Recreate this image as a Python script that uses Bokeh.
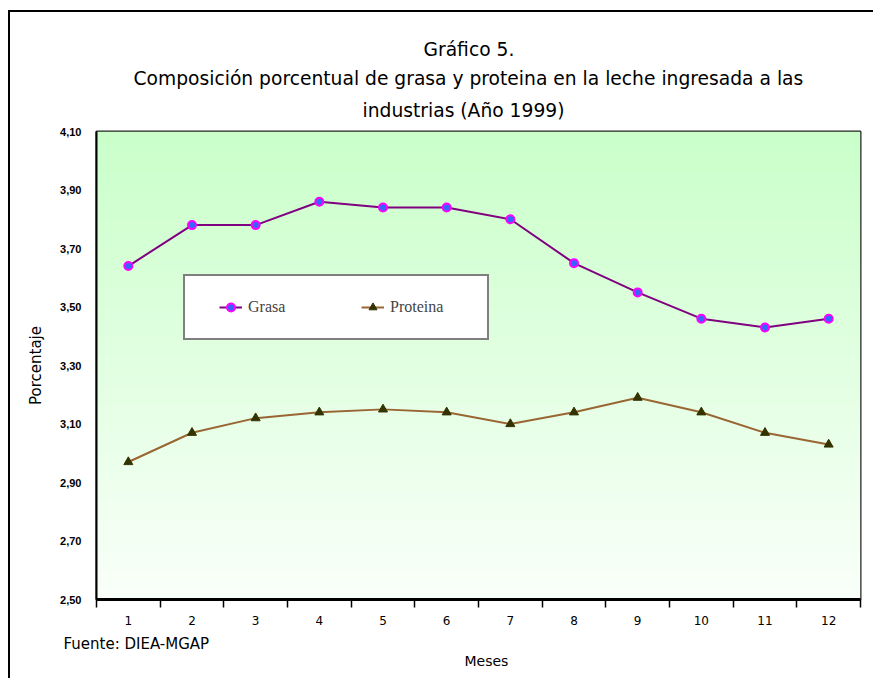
import numpy as np
from bokeh.plotting import figure
from bokeh.models import (Range1d, FixedTicker, CustomJSTickFormatter, Legend, LegendItem,
                          Title)
from bokeh.embed import file_html
from bokeh.resources import INLINE

# ---------------- data ----------------
meses = [1, 2, 3, 4, 5, 6, 7, 8, 9, 10, 11, 12]
mes_labels = ["1", "2", "3", "4", "5", "6", "7", "8", "9", "10", "11", "12"]
grasa = [3.64, 3.78, 3.78, 3.86, 3.84, 3.84, 3.80, 3.65, 3.55, 3.46, 3.43, 3.46]
proteina = [2.97, 3.07, 3.12, 3.14, 3.15, 3.14, 3.10, 3.14, 3.19, 3.14, 3.07, 3.03]
y_ticks = [2.5, 2.7, 2.9, 3.1, 3.3, 3.5, 3.7, 3.9, 4.1]
boundaries = [m - 0.5 for m in meses] + [meses[-1] + 0.5]

title_lines = ["Gráfico 5.",
               "Composición porcentual de grasa y proteina en la leche ingresada a las",
               "industrias  (Año 1999)"]
source_text = "Fuente: DIEA-MGAP"
x_label = "Meses"
y_label = "Porcentaje"

p = figure(width=865, height=668,
           x_range=Range1d(boundaries[0], boundaries[-1]),
           y_range=Range1d(y_ticks[0], y_ticks[-1]),
           output_backend="svg", toolbar_location=None,
           min_border_left=86, min_border_right=15, min_border_top=119, min_border_bottom=81)
p.styles = {"border-top": "2px solid black", "border-left": "2px solid black",
            "margin-left": "8px", "margin-top": "10px"}

p.background_fill_color = "white"
p.border_fill_color = "white"
p.outline_line_color = "#222222"
p.outline_line_width = 2
p.xgrid.visible = False
p.ygrid.visible = False

# gradient background of the plot area (style only)
N = 256
img = np.zeros((N, 1), dtype=np.uint32)
view = img.view(dtype=np.uint8).reshape((N, 1, 4))
t = np.linspace(0, 1, N)  # 0 bottom -> 1 top
view[:, 0, 0] = (250 - 48 * t).astype(np.uint8)
view[:, 0, 1] = 255
view[:, 0, 2] = (250 - 48 * t).astype(np.uint8)
view[:, 0, 3] = 255
p.image_rgba(image=[img], x=boundaries[0], y=y_ticks[0],
             dw=boundaries[-1] - boundaries[0], dh=y_ticks[-1] - y_ticks[0])

# series
gl = p.line(meses, grasa, line_color="#800080", line_width=2)
gs = p.scatter(meses, grasa, marker="circle", size=8, fill_color="#3366FF",
               line_color="#FF00FF", line_width=2)
pl = p.line(meses, proteina, line_color="#996633", line_width=2)
ps = p.scatter(meses, proteina, marker="triangle", size=9, fill_color="#333300",
               line_color="#333300")

# x axis
xax = p.xaxis[0]
xax.ticker = FixedTicker(ticks=meses, minor_ticks=boundaries)
xax.major_label_overrides = {m: l for m, l in zip(meses, mes_labels)}
xax.major_tick_out = 0
xax.major_tick_in = 0
xax.minor_tick_out = 8
xax.minor_tick_in = 0
xax.minor_tick_line_color = "black"
xax.minor_tick_line_width = 1.5
xax.axis_line_color = "black"
xax.axis_line_width = 3
xax.major_label_standoff = 8
xax.major_label_text_font = "DejaVu Sans"
xax.major_label_text_font_size = "12px"
xax.major_label_text_color = "black"

# y axis
yax = p.yaxis[0]
yax.ticker = FixedTicker(ticks=y_ticks)
yax.formatter = CustomJSTickFormatter(code="return tick.toFixed(2).replace('.', ',');")
yax.major_tick_out = 0
yax.major_tick_in = 0
yax.minor_tick_out = 0
yax.minor_tick_in = 0
yax.axis_line_color = "black"
yax.axis_line_width = 2
yax.major_label_standoff = 15
yax.major_label_text_font = "Liberation Sans"
yax.major_label_text_font_size = "11px"
yax.major_label_text_font_style = "bold"
yax.major_label_text_color = "black"
yax.axis_label = y_label
yax.axis_label_text_font = "DejaVu Sans"
yax.axis_label_text_font_size = "15px"
yax.axis_label_text_font_style = "normal"
yax.axis_label_text_color = "black"
yax.axis_label_standoff = 12

# legend
legend = Legend(items=[LegendItem(label="Grasa", renderers=[gl, gs]),
                       LegendItem(label="Proteina", renderers=[pl, ps])],
                orientation="horizontal", location=(87, 259), margin=0, padding=21,
                spacing=37, glyph_width=23, glyph_height=20, label_height=20,
                label_width=76, label_standoff=6,
                title=" ", title_location="left", title_standoff=11,
                title_text_font_size="2px",
                label_text_font="Liberation Serif", label_text_font_size="16px",
                border_line_color="black", border_line_width=2,
                background_fill_color="white", background_fill_alpha=1)
p.add_layout(legend)

# title lines: first added sits closest to the frame; left offsets from the frame edge
for txt, so, off in zip(reversed(title_lines), [21, -2, 13], [266, 37, 327]):
    p.add_layout(Title(text=txt, align="left", offset=off, standoff=so,
                       text_font="DejaVu Sans", text_font_size="18.7px",
                       text_font_style="normal", text_color="black"), "above")

# source note and x axis label as bottom panels
p.add_layout(Title(text=source_text, align="left", offset=-33, standoff=10,
                   text_font="DejaVu Sans", text_font_size="15px",
                   text_font_style="normal", text_color="black"), "below")
p.add_layout(Title(text=x_label, align="left", offset=368, standoff=-13,
                   text_font="DejaVu Sans", text_font_size="14px",
                   text_font_style="normal", text_color="black"), "below")

open("out.html", "w").write(file_html(p, INLINE))
